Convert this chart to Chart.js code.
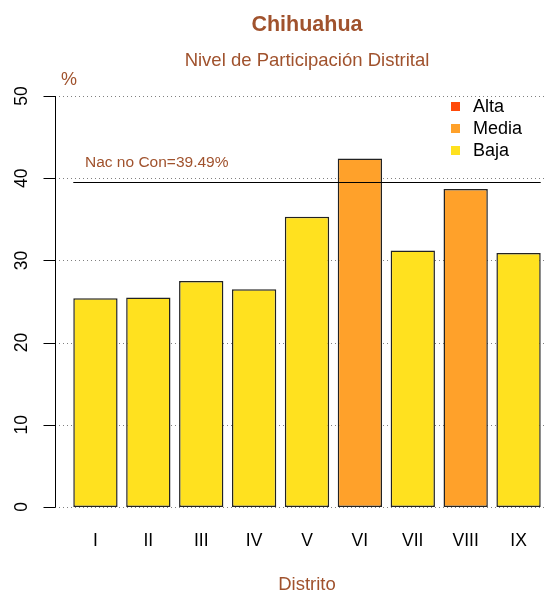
<!DOCTYPE html>
<html>
<head>
<meta charset="utf-8">
<script src="https://cdn.jsdelivr.net/npm/chart.js@4.4.1/dist/chart.umd.min.js"></script>
<style>
  html, body { margin: 0; padding: 0; background: #fff; }
  #wrap { width: 547px; height: 594px; position: relative; }
</style>
</head>
<body>
<div id="wrap"><canvas id="partChart" width="547" height="594"></canvas></div>
<script>
// Data
const districts = ["I", "II", "III", "IV", "V", "VI", "VII", "VIII", "IX"];
const participation = [25.4, 25.5, 27.5, 26.5, 35.3, 42.4, 31.2, 38.7, 30.9];
const districtLevel = ["Baja", "Baja", "Baja", "Baja", "Baja", "Media", "Baja", "Media", "Baja"];
const levelNames = ["Alta", "Media", "Baja"];
const levelColors = ["#FF4A0A", "#FFA12A", "#FFE11F"];
const yTicks = [0, 10, 20, 30, 40, 50];
const nationalValue = 39.49;
const nationalLabel = "Nac no Con=39.49%";

const BROWN = "#A0522D";
const FONT = "'Liberation Sans', Arial, Helvetica, sans-serif";

const colorFor = (lvl) => levelColors[levelNames.indexOf(lvl)];

// Axes, grid, texts and legend drawn around the bars
const decorations = {
  id: "decorations",
  beforeDatasetsDraw(chart) {
    const ctx = chart.ctx;
    const y = chart.scales.y;
    const axisX = 55;
    ctx.save();
    ctx.strokeStyle = "#808080";
    ctx.lineWidth = 1;
    ctx.setLineDash([1, 3]);
    yTicks.forEach(v => {
      const py = Math.round(y.getPixelForValue(v)) + 0.5;
      ctx.beginPath();
      ctx.moveTo(axisX, py);
      ctx.lineTo(547, py);
      ctx.stroke();
    });
    ctx.restore();
  },
  afterDraw(chart) {
    const ctx = chart.ctx;
    const y = chart.scales.y;
    const x = chart.scales.x;
    const axisX = 55.5;
    ctx.save();

    // y axis line + ticks
    ctx.strokeStyle = "#000";
    ctx.lineWidth = 1;
    ctx.beginPath();
    ctx.moveTo(axisX, y.getPixelForValue(yTicks[0]));
    ctx.lineTo(axisX, y.getPixelForValue(yTicks[yTicks.length - 1]));
    yTicks.forEach(v => {
      const py = Math.round(y.getPixelForValue(v)) + 0.5;
      ctx.moveTo(axisX - 12, py);
      ctx.lineTo(axisX, py);
    });
    ctx.stroke();

    // y tick labels (rotated)
    ctx.fillStyle = "#000";
    ctx.font = "17.5px " + FONT;
    ctx.textAlign = "center";
    ctx.textBaseline = "middle";
    yTicks.forEach(v => {
      ctx.save();
      ctx.translate(22, y.getPixelForValue(v));
      ctx.rotate(-Math.PI / 2);
      ctx.fillText(String(v), 0, 0);
      ctx.restore();
    });

    // x tick labels
    ctx.font = "17.5px " + FONT;
    districts.forEach((d, i) => {
      ctx.fillText(d, x.getPixelForValue(i), 541);
    });

    // national reference line
    const bars = chart.getDatasetMeta(0).data;
    const first = bars[0], last = bars[bars.length - 1];
    const ny = Math.round(y.getPixelForValue(nationalValue)) + 0.5;
    ctx.beginPath();
    ctx.moveTo(first.x - first.width / 2, ny);
    ctx.lineTo(last.x + last.width / 2, ny);
    ctx.stroke();

    ctx.fillStyle = BROWN;
    ctx.font = "15.5px " + FONT;
    ctx.textAlign = "left";
    ctx.fillText(nationalLabel, 85, 163);

    // titles
    ctx.textAlign = "center";
    ctx.font = "bold 21.5px " + FONT;
    ctx.fillText("Chihuahua", 307, 25);
    ctx.font = "18.5px " + FONT;
    ctx.fillText("Nivel de Participación Distrital", 307, 61);
    ctx.fillText("Distrito", 307, 585);
    ctx.font = "18px " + FONT;
    ctx.fillText("%", 69, 80);

    // legend
    ctx.textAlign = "left";
    ctx.font = "18px " + FONT;
    levelNames.forEach((name, i) => {
      const cy = 106.5 + i * 22;
      ctx.fillStyle = levelColors[i];
      ctx.fillRect(451, cy - 4.5, 9, 9);
      ctx.fillStyle = "#000";
      ctx.fillText(name, 473, cy + 1);
    });

    ctx.restore();
  }
};

new Chart(document.getElementById("partChart"), {
  type: "bar",
  data: {
    labels: districts,
    datasets: [{
      data: participation,
      backgroundColor: districtLevel.map(colorFor),
      borderColor: "#222",
      borderWidth: 1.5,
      borderSkipped: false,
      categoryPercentage: 1,
      barPercentage: 0.838
    }]
  },
  options: {
    responsive: false,
    animation: false,
    devicePixelRatio: 1,
    layout: { padding: { top: 96, bottom: 87, left: 69, right: 2 } },
    plugins: {
      legend: { display: false },
      title: { display: false },
      tooltip: { enabled: false }
    },
    scales: {
      x: { type: "category", display: false, offset: true },
      y: { display: false, min: 0, max: 50 }
    }
  },
  plugins: [decorations]
});
</script>
</body>
</html>
